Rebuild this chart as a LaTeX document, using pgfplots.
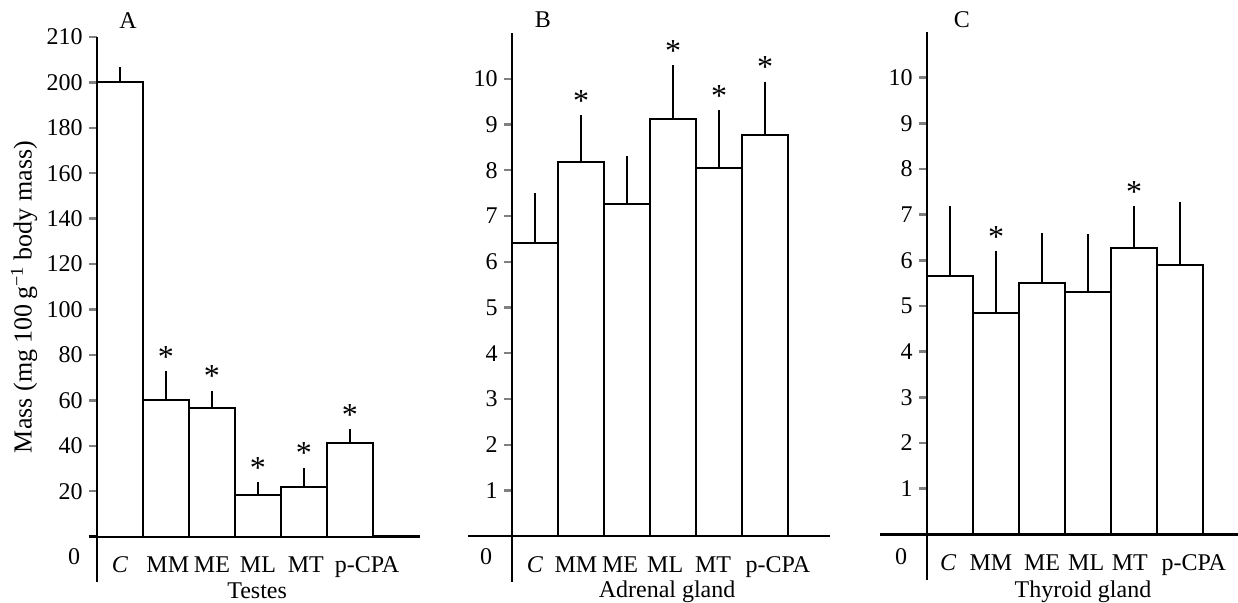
\documentclass[border=0pt]{standalone}
\usepackage{fontspec}
\setmainfont{Liberation Serif}
\usepackage{pgfplots}
\pgfplotsset{compat=1.18}
\usepackage{pgfplotstable}

% bar tables: x = centre of the bar, y = mean, err = upper error
\pgfplotstableread{
x   y     err
0.5 200   6.6
1.5 60    12.7
2.5 56.8  7.4
3.5 18.5  5.5
4.5 22    8.3
5.5 41    6.2
}\testes
\pgfplotstableread{
x   y     err
0.5 6.42  1.08
1.5 8.18  1.02
2.5 7.27  1.04
3.5 9.13  1.16
4.5 8.05  1.26
5.5 8.78  1.15
}\adrenal
\pgfplotstableread{
x   y     err
0.5 5.65  1.55
1.5 4.85  1.35
2.5 5.50  1.10
3.5 5.30  1.27
4.5 6.27  0.91
5.5 5.90  1.37
}\thyroid

\pgfplotsset{
  panel/.style={
    scale only axis,
    axis x line=middle, axis y line=middle,
    axis line style={-, line width=1.2pt},
    tick align=outside,
    major tick length=4pt,
    ytick style={line width=1.2pt},
    xtick style={draw=none},
    xticklabels={\textit{C},MM,ME,ML,MT,p-CPA},
    xticklabel style={anchor=base, yshift=-14pt},
    yticklabel style={inner sep=3pt},
    clip=false,
    every axis title/.style={anchor=center},
    xlabel style={anchor=center},
  },
  bars/.style={ybar, bar width=1, fill=white, draw=black, line width=1pt,
    error bars/.cd, y dir=plus, y explicit, error mark=none,
    error bar style={line width=1pt, black}},
  stars/.style={draw=none, mark=none, nodes near coords={*},
    every node near coord/.append style={anchor=base, yshift=2pt, inner sep=0pt,
      font=\fontsize{16}{16}\selectfont}},
}

\begin{document}
\fontsize{12}{14.4}\selectfont
\begin{tikzpicture}
\useasboundingbox (0,0) rectangle (619pt,-301.5pt);

% A: testes
\begin{axis}[panel,
  at={(44.5pt,-291pt)}, anchor=south west,
  width=165.5pt, height=272.5pt,
  xmin=-0.174, xmax=7.022, ymin=-20, ymax=220,
  xtick={0.5,1.54,2.5,3.5,4.54,5.87},
  ytick={20,40,...,200,220},
  yticklabels={20,40,60,80,100,120,140,160,180,200,210},
  title={A}, title style={at={(axis description cs:0.118,1.031)}},
  xlabel={Testes}, xlabel style={at={(axis description cs:0.508,-0.0165)}},
  ylabel={Mass (mg 100\,g\textsuperscript{−1} body mass)},
  ylabel style={at={(axis description cs:-0.196,0.523)}, anchor=center, rotate=90,
    font=\fontsize{13}{15}\selectfont},
]
\addplot[bars] table[x=x, y=y, y error=err] {\testes};
\addplot[stars] coordinates {(1.5,72.7) (2.5,64.2) (3.5,24) (4.5,30.3) (5.5,47.2)};
\node at (axis cs:-0.5,-9) {0};
\end{axis}

% B: adrenal gland
\begin{axis}[panel,
  at={(234pt,-291pt)}, anchor=south west,
  width=181pt, height=274.5pt,
  xmin=-0.957, xmax=6.913, ymin=-1, ymax=11,
  xtick={0.5,1.39,2.35,3.33,4.37,5.78},
  ytick={1,...,10}, yticklabels={1,2,3,4,5,6,7,8,9,10},
  title={B}, title style={at={(axis description cs:0.207,1.024)}},
  xlabel={Adrenal gland}, xlabel style={at={(axis description cs:0.55,-0.018)}},
]
\addplot[bars] table[x=x, y=y, y error=err] {\adrenal};
\addplot[stars] coordinates {(1.5,9.2) (3.5,10.29) (4.5,9.31) (5.5,9.93)};
\node at (axis cs:-0.565,-0.454) {0};
\end{axis}

% C: thyroid gland
\begin{axis}[panel,
  at={(440pt,-290pt)}, anchor=south west,
  width=179pt, height=274pt,
  xmin=-1.022, xmax=6.761, ymin=-1, ymax=11,
  xtick={0.46,1.39,2.5,3.46,4.41,5.8},
  ytick={1,...,10}, yticklabels={1,2,3,4,5,6,7,8,9,10},
  title={C}, title style={at={(axis description cs:0.229,1.022)}},
  xlabel={Thyroid gland}, xlabel style={at={(axis description cs:0.567,-0.022)}},
]
\addplot[bars] table[x=x, y=y, y error=err] {\thyroid};
\addplot[stars] coordinates {(1.5,6.2) (4.5,7.18)};
\node at (axis cs:-0.565,-0.497) {0};
\end{axis}
\end{tikzpicture}
\end{document}
